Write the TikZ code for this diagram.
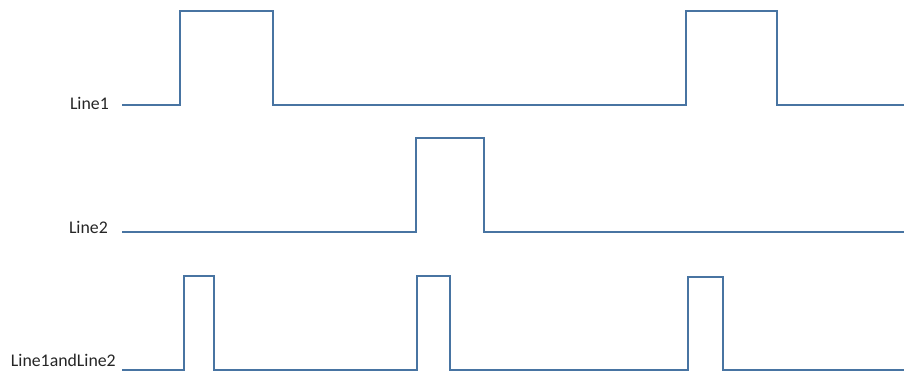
\documentclass[tikz,border=0pt]{standalone}
\usepackage{fontspec}
\setmainfont{Carlito}
\definecolor{sig}{RGB}{72,116,162}
\begin{document}
\begin{tikzpicture}[x=1pt,y=-1pt,
  wave/.style={draw=sig,line width=2pt,line join=miter},
  lbl/.style={anchor=base east,inner sep=0pt,font=\fontsize{17.8}{21}\selectfont,text=black!85}]
\useasboundingbox (0,0) rectangle (904,372);
\node[lbl] (l1) at (109,109) {Line1};
\node[lbl] (l2) at (108,233) {Line2};
\node[lbl] (l3) at (116,366) {Line1andLine2};
\coordinate (s1) at (122,105);
\coordinate (s2) at (122,232);
\coordinate (s3) at (122,370);
\draw[wave] (s1) -- (180,105) -- (180,11) -- (273,11) -- (273,105) -- (686,105) -- (686,11) -- (777,11) -- (777,105) -- (904,105);
\draw[wave] (s2) -- (416,232) -- (416,138) -- (484,138) -- (484,232) -- (904,232);
\draw[wave] (s3) -- (184,370) -- (184,276) -- (214,276) -- (214,370) -- (417,370) -- (417,276) -- (450,276) -- (450,370) -- (688,370) -- (688,277) -- (723,277) -- (723,370) -- (904,370);
\end{tikzpicture}
\end{document}
